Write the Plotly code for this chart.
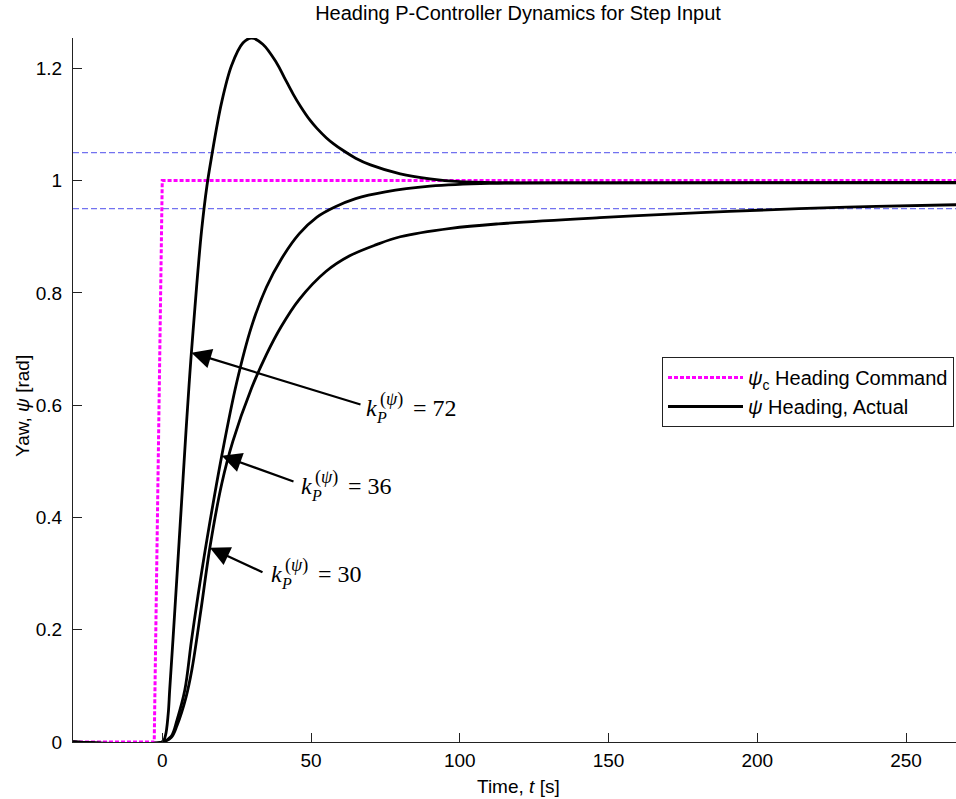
import numpy as np
import plotly.graph_objects as go

# ---------------- data ----------------
t_cmd = [-30, -2.7, 0, 267]
v_cmd = [0, 0, 1, 1]

t_band = [-30, 267]
band_hi = [1.05, 1.05]
band_lo = [0.95, 0.95]

t72 = [-30, 0, 1, 2, 2.5, 3.6, 5, 6, 7, 8, 9, 9.6, 11, 12, 13.2, 15, 16.5,
       19.9, 23.3, 27.1, 30, 33.8, 38.4, 41, 43.9, 46.5, 49.6, 52, 55.2, 57.5,
       60.7, 65, 70, 80, 90, 100, 120, 267]
v72 = [0, 0, 0.01, 0.05, 0.093, 0.182, 0.30, 0.385, 0.47, 0.555, 0.635, 0.68,
       0.775, 0.84, 0.91, 0.99, 1.04, 1.138, 1.205, 1.245, 1.254, 1.243, 1.21,
       1.184, 1.155, 1.132, 1.108, 1.093, 1.076, 1.066, 1.054, 1.04, 1.028,
       1.012, 1.003, 0.998, 0.996, 0.996]

t36 = [-30, 0, 3, 5, 7.6, 9.8, 12, 15, 20, 25, 30, 35, 40, 46, 52, 58, 65,
       75, 90, 110, 150, 267]
v36 = [0, 0, 0.01, 0.04, 0.093, 0.18, 0.26, 0.36, 0.51, 0.64, 0.74, 0.81,
       0.86, 0.905, 0.935, 0.953, 0.968, 0.98, 0.99, 0.995, 0.996, 0.997]

t30 = [-30, 0, 3, 5, 8, 10, 13, 16, 20, 23.7, 30, 35, 40, 46, 55, 63, 72, 80,
       97, 113, 147, 181, 214, 240, 267]
v30 = [0, 0, 0.008, 0.03, 0.08, 0.13, 0.235, 0.346, 0.46, 0.535, 0.63, 0.69,
       0.74, 0.788, 0.838, 0.866, 0.886, 0.9, 0.915, 0.923, 0.934, 0.943,
       0.95, 0.954, 0.957]

gains = ["72", "36", "30"]
arrow_t = [9.8, 20, 16]

x_ticks = [0, 50, 100, 150, 200, 250]
y_ticks = [0, 0.2, 0.4, 0.6, 0.8, 1.0, 1.2]
y_ticklabels = ["0", "0.2", "0.4", "0.6", "0.8", "1", "1.2"]

# ---------------- layout geometry ----------------
W, H = 956, 799
L, R, T, B = 73, 956, 38, 742
XR = [-30, 266.8]
YR = [0, max(v72)]


def px_x(x):
    return (x - L) / (R - L)


def px_y(y):
    return (B - y) / (B - T)


def data_x(px):
    return XR[0] + (px - L) / (R - L) * (XR[1] - XR[0])


def data_y(py):
    return YR[0] + (B - py) / (B - T) * (YR[1] - YR[0])


fig = go.Figure()

blue = "#7272f0"
for yy in (band_hi, band_lo):
    fig.add_trace(go.Scatter(x=t_band, y=yy, mode="lines", showlegend=False,
                             line=dict(color=blue, width=1.2, dash="6px,3px"),
                             hoverinfo="skip"))

fig.add_trace(go.Scatter(x=t_cmd, y=v_cmd, mode="lines",
                         name="<i>ψ</i><sub>c</sub> Heading Command",
                         line=dict(color="#ff00ff", width=3, dash="4px,2px")))

curves = [(t72, v72), (t36, v36), (t30, v30)]
for i, (tt, vv) in enumerate(curves):
    fig.add_trace(go.Scatter(x=tt, y=vv, mode="lines",
                             name="<i>ψ</i> Heading, Actual",
                             showlegend=(i == 0),
                             line=dict(color="black", width=2.8,
                                       shape="spline", smoothing=1.0)))

ann = []
label_k = [(371.7, 408), (306.5, 486), (276.7, 574)]
tails = [(362, 405), (295, 482), (264, 573)]
serif = "Liberation Serif, Times New Roman, serif"
for i, (tt, vv) in enumerate(curves):
    tip_t = arrow_t[i]
    tip_v = float(np.interp(tip_t, tt, vv))
    tx, ty = tails[i]
    ann.append(dict(x=tip_t, y=tip_v, xref="x", yref="y",
                    ax=data_x(tx), ay=data_y(ty), axref="x", ayref="y",
                    text="", showarrow=True, arrowhead=2, arrowsize=1.8,
                    arrowwidth=2.2, arrowcolor="black", standoff=0,
                    startstandoff=0))
    kx, ky = label_k[i]
    ann.append(dict(x=px_x(kx), y=px_y(ky), xref="paper", yref="paper",
                    text="<i>k</i>", showarrow=False, xanchor="center",
                    yanchor="middle", font=dict(family=serif, size=24, color="black")))
    ann.append(dict(x=px_x(kx + 20), y=px_y(ky - 8.5), xref="paper", yref="paper",
                    text="(<i>ψ</i>)", showarrow=False, xanchor="center",
                    yanchor="middle", font=dict(family=serif, size=18, color="black")))
    ann.append(dict(x=px_x(kx + 10), y=px_y(ky + 9), xref="paper", yref="paper",
                    text="<i>P</i>", showarrow=False, xanchor="center",
                    yanchor="middle", font=dict(family=serif, size=16, color="black")))
    ann.append(dict(x=px_x(kx + 39), y=px_y(ky), xref="paper", yref="paper",
                    text="= " + gains[i], showarrow=False, xanchor="left",
                    yanchor="middle", font=dict(family=serif, size=24, color="black")))

sans = "Liberation Sans, Arial, sans-serif"
ann.append(dict(x=px_x(22), y=px_y(406), xref="paper", yref="paper",
                text="Yaw, <i>ψ</i> [rad]", textangle=-90, showarrow=False,
                xanchor="center", yanchor="middle",
                font=dict(family=sans, size=19, color="black")))
ann.append(dict(x=px_x(518), y=px_y(786), xref="paper", yref="paper",
                text="Time, <i>t</i> [s]", showarrow=False,
                xanchor="center", yanchor="middle",
                font=dict(family=sans, size=19, color="black")))

fig.update_layout(
    width=W, height=H,
    margin=dict(l=L, r=W - R, t=T, b=H - B, pad=0),
    paper_bgcolor="white", plot_bgcolor="white",
    font=dict(family=sans, size=19, color="black"),
    title=dict(text="Heading P-Controller Dynamics for Step Input",
               x=518 / W, y=1 - 13 / H, xanchor="center", yanchor="middle",
               xref="container", yref="container",
               font=dict(family=sans, size=20, color="black")),
    xaxis=dict(range=XR, tickvals=x_ticks, ticks="inside", ticklen=9,
               tickcolor="#222", tickwidth=1, showline=True, linecolor="#222",
               linewidth=1.2, showgrid=False, zeroline=False,
               ticklabelstandoff=1, tickfont=dict(size=19)),
    yaxis=dict(range=YR, tickvals=y_ticks, ticktext=y_ticklabels,
               ticks="inside", ticklen=9, tickcolor="#222", tickwidth=1,
               showline=True, linecolor="#222", linewidth=1.2,
               showgrid=False, zeroline=False, ticklabelstandoff=6,
               tickfont=dict(size=19)),
    legend=dict(x=px_x(662), y=px_y(357), xanchor="left", yanchor="top",
                bgcolor="white", bordercolor="#222", borderwidth=1,
                font=dict(family=sans, size=20, color="black"),
                itemwidth=75, tracegroupgap=0),
    annotations=ann,
    showlegend=True,
)

fig.write_html("out.html")
